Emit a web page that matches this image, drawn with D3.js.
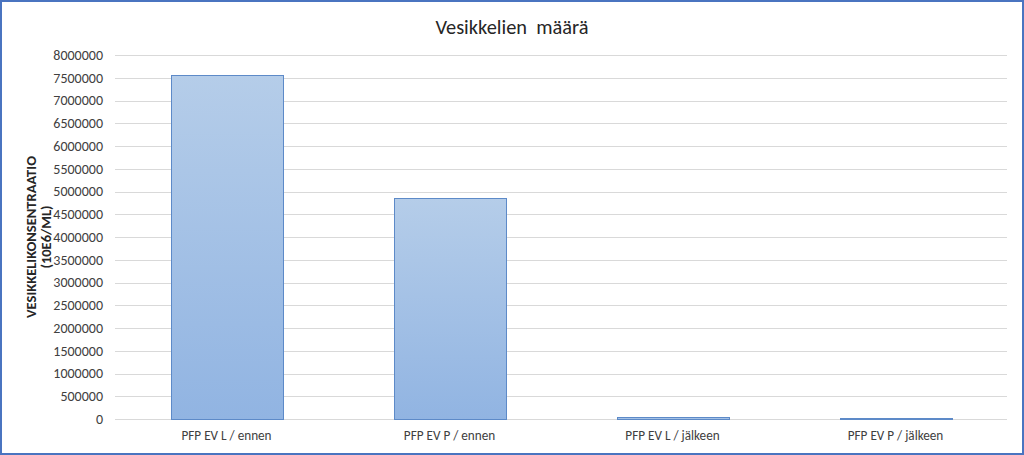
<!DOCTYPE html>
<html>
<head>
<meta charset="utf-8">
<script src="https://cdn.jsdelivr.net/npm/d3@7"></script>
<style>
	body { margin: 0; background: #fff; }
	text { font-family: Carlito, Lato, "Open Sans", sans-serif; }
</style>
</head>
<body>
<div id="chart"></div>
<script>
var WIDTH = 1024;
var HEIGHT = 455;

var categories = ['PFP EV L / ennen', 'PFP EV P / ennen', 'PFP EV L / jälkeen', 'PFP EV P / jälkeen'];
var values = [7560000, 4860000, 40000, 30000];
var yTicks = [0, 500000, 1000000, 1500000, 2000000, 2500000, 3000000, 3500000, 4000000,
	4500000, 5000000, 5500000, 6000000, 6500000, 7000000, 7500000, 8000000];
var title = 'Vesikkelien  määrä';
var yLabel = ['VESIKKELIKONSENTRAATIO', '(10E6/ML)'];

var margin = {left: 115, right: 17, top: 55, bottom: 36};
var FONT = 'Carlito, Lato, "Open Sans", sans-serif';

function drawChart() {
	var svg = d3.select('#chart').append('svg')
		.attr('width', WIDTH)
		.attr('height', HEIGHT);

	var defs = svg.append('defs');
	var grad = defs.append('linearGradient')
		.attr('id', 'barfill')
		.attr('x1', 0).attr('y1', 0).attr('x2', 0).attr('y2', 1);
	grad.append('stop').attr('offset', '0%').attr('stop-color', '#b5cde9');
	grad.append('stop').attr('offset', '100%').attr('stop-color', '#91b4e2');

	// frame
	svg.append('rect')
		.attr('x', 1).attr('y', 1)
		.attr('width', WIDTH-2).attr('height', HEIGHT-2)
		.attr('fill', '#fff')
		.attr('stroke', '#4a74c0')
		.attr('stroke-width', 2);

	var x = d3.scaleBand()
		.domain(categories)
		.range([margin.left, WIDTH-margin.right])
		.paddingInner(0.5)
		.paddingOuter(0.25);

	var y = d3.scaleLinear()
		.domain([0, 8000000])
		.range([HEIGHT-margin.bottom, margin.top]);

	// gridlines
	svg.append('g')
		.selectAll('line')
		.data(yTicks)
		.enter().append('line')
		.attr('x1', margin.left)
		.attr('x2', WIDTH-margin.right)
		.attr('y1', function(d) { return Math.round(y(d))+0.5; })
		.attr('y2', function(d) { return Math.round(y(d))+0.5; })
		.attr('stroke', '#d9d9d9')
		.attr('stroke-width', 1);

	// y axis labels
	var yAxis = d3.axisLeft(y)
		.tickValues(yTicks)
		.tickFormat(d3.format('d'))
		.tickSize(0)
		.tickPadding(12);

	var ya = svg.append('g')
		.attr('transform', 'translate('+margin.left+',0)')
		.call(yAxis);
	ya.select('.domain').remove();
	ya.selectAll('text')
		.attr('font-size', 14)
		.attr('fill', '#404040')
		.style('font-family', FONT);

	// bars
	svg.append('g')
		.selectAll('rect')
		.data(values)
		.enter().append('rect')
		.attr('x', function(d, i) { return Math.round(x(categories[i]))+0.5; })
		.attr('y', function(d) { return Math.round(y(d))+0.5; })
		.attr('width', Math.round(x.bandwidth()))
		.attr('height', function(d) { return Math.round(y(0))-Math.round(y(d)); })
		.attr('fill', 'url(#barfill)')
		.attr('stroke', '#5d8ac8')
		.attr('stroke-width', 1);

	// x axis labels
	var xAxis = d3.axisBottom(x)
		.tickSize(0)
		.tickPadding(12);
	var xa = svg.append('g')
		.attr('transform', 'translate(0,'+(HEIGHT-margin.bottom)+')')
		.call(xAxis);
	xa.select('.domain').remove();
	xa.selectAll('text')
		.attr('font-size', 13.2)
		.attr('fill', '#404040')
		.style('font-family', FONT);

	// title
	svg.append('text')
		.attr('x', WIDTH/2)
		.attr('y', 34)
		.attr('text-anchor', 'middle')
		.attr('font-size', 20.4)
		.attr('fill', '#262626')
		.style('white-space', 'pre')
		.text(title);

	// y title
	var yt = svg.append('text')
		.attr('transform', 'translate(36,'+((margin.top+HEIGHT-margin.bottom)/2)+') rotate(-90)')
		.attr('text-anchor', 'middle')
		.attr('font-size', 14.5)
		.attr('font-weight', 'bold')
		.attr('fill', '#262626');
	yt.selectAll('tspan')
		.data(yLabel)
		.enter().append('tspan')
		.attr('x', 0)
		.attr('dy', function(d, i) { return i == 0 ? 0 : 15; })
		.text(function(d) { return d; });

	return svg;
}

drawChart();
</script>
</body>
</html>
